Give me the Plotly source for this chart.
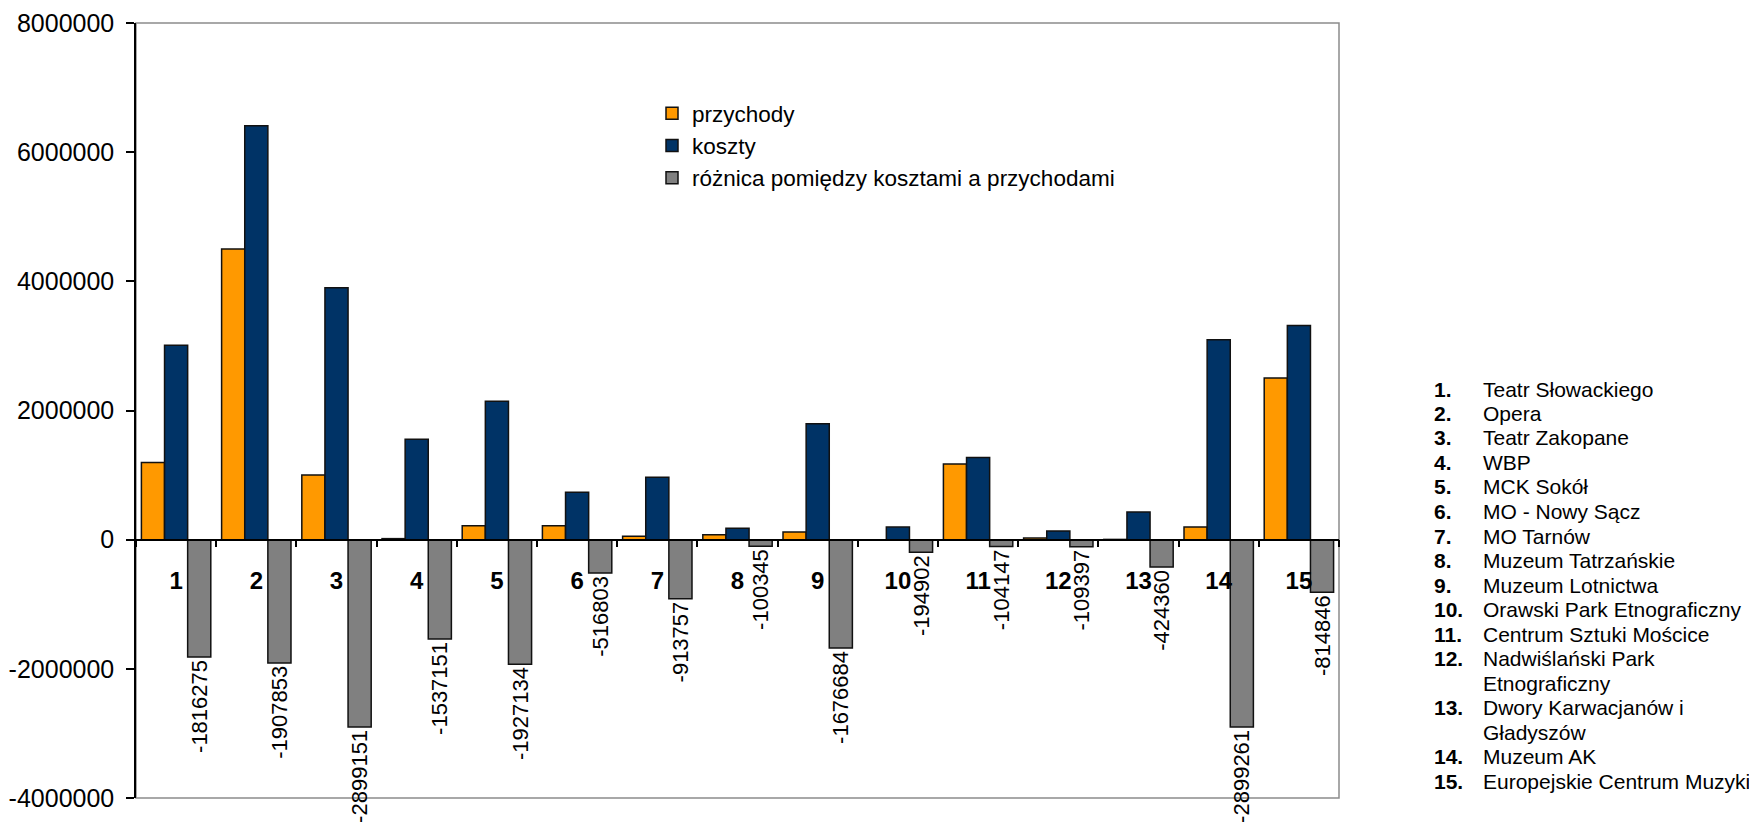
import plotly.graph_objects as go

# ---- data ----
categories = [str(i) for i in range(1, 16)]
przychody = [1196000, 4500000, 1000000, 16000, 217000, 217000, 52000, 75000,
             119000, 0, 1170000, 25000, 4000, 196000, 2502000]
koszty = [3012000, 6408000, 3899000, 1553000, 2144000, 734000, 966000, 175000,
          1796000, 195000, 1274000, 134000, 428000, 3095000, 3317000]
roznica = [-1816275, -1907853, -2899151, -1537151, -1927134, -516803, -913757,
           -100345, -1676684, -194902, -104147, -109397, -424360, -2899261, -814846]
series_names = ["przychody", "koszty", "różnica pomiędzy kosztami a przychodami"]
y_tick_values = [8000000, 6000000, 4000000, 2000000, 0, -2000000, -4000000]
y_tick_labels = ["8000000", "6000000", "4000000", "2000000", "0", "-2000000", "-4000000"]
list_numbers = ["1.", "2.", "3.", "4.", "5.", "6.", "7.", "8.", "9.", "10.",
                "11.", "12.", "", "13.", "", "14.", "15."]
list_names = ["Teatr Słowackiego", "Opera", "Teatr Zakopane", "WBP", "MCK Sokół",
              "MO - Nowy Sącz", "MO Tarnów", "Muzeum Tatrzańskie", "Muzeum Lotnictwa",
              "Orawski Park Etnograficzny", "Centrum Sztuki Mościce", "Nadwiślański Park",
              "Etnograficzny", "Dwory Karwacjanów i", "Gładyszów", "Muzeum AK",
              "Europejskie Centrum Muzyki"]

FONT = "Arial, Liberation Sans, sans-serif"
WIN_W, WIN_H = 1757, 825
BODY = 8  # default page body margin
# plot area in window pixels
PL, PR, PT, PB = 136, 1339, 23, 798
plot_w = PR - PL
plot_h = PB - PT

line_style = dict(color="#111111", width=1.5)

fig = go.Figure()
fig.add_trace(go.Bar(x=categories, y=przychody, name=series_names[0],
                     marker=dict(color="#FF9900", line=line_style),
                     legendgroup="a"))
fig.add_trace(go.Bar(x=categories, y=koszty, name=series_names[1],
                     marker=dict(color="#003366", line=line_style),
                     legendgroup="b"))
fig.add_trace(go.Bar(x=categories, y=roznica, name=series_names[2],
                     marker=dict(color="#808080", line=line_style),
                     text=[str(v) for v in roznica], textposition="outside",
                     textangle=-90, constraintext="none", cliponaxis=False,
                     textfont=dict(family=FONT, size=22, color="black"),
                     legendgroup="c"))

# frame (gray) around plot area
fig.add_shape(type="rect", xref="paper", yref="paper", x0=0, x1=1, y0=0, y1=1,
              line=dict(color="#8c8c8c", width=1.5), layer="below")


def px_to_paper_x(px):
    return (px - PL) / plot_w


def px_to_paper_y(py):
    return (PB - py) / plot_h


# right-hand list
for i, (num, name) in enumerate(zip(list_numbers, list_names)):
    ypx = 389 + 24.5 * i
    if num:
        fig.add_annotation(text="<b>" + num + "</b>", xref="paper", yref="paper",
                           x=px_to_paper_x(1432), y=px_to_paper_y(ypx),
                           xanchor="left", yanchor="middle", showarrow=False,
                           font=dict(family=FONT, size=21, color="black"))
    fig.add_annotation(text=name, xref="paper", yref="paper",
                       x=px_to_paper_x(1481), y=px_to_paper_y(ypx),
                       xanchor="left", yanchor="middle", showarrow=False,
                       font=dict(family=FONT, size=21, color="black"))

fig.update_layout(
    width=WIN_W - BODY, height=WIN_H - BODY, autosize=False,
    margin=dict(l=PL - BODY, r=WIN_W - PR, t=PT - BODY, b=WIN_H - PB, pad=0,
                autoexpand=False),
    paper_bgcolor="white", plot_bgcolor="white",
    font=dict(family=FONT, color="black"),
    barmode="group", bargap=0.135, bargroupgap=0,
    showlegend=True,
    legend=dict(x=px_to_paper_x(652), y=px_to_paper_y(92), xanchor="left", yanchor="top",
                bgcolor="rgba(0,0,0,0)", font=dict(family=FONT, size=22.5, color="black"),
                traceorder="grouped", tracegroupgap=0),
    xaxis=dict(type="category", anchor="free", position=1/3, automargin=False,
               showline=True, linecolor="black", linewidth=1.5,
               ticks="outside", tickson="boundaries", ticklen=7, tickcolor="black",
               tickwidth=1.5, showgrid=False, zeroline=False,
               tickfont=dict(family=FONT, size=24, color="black", weight="bold"),
               ticklabelstandoff=20),
    yaxis=dict(range=[-4000000, 8000000], tickvals=y_tick_values, ticktext=y_tick_labels,
               automargin=False,
               showline=True, linecolor="black", linewidth=1.5,
               ticks="outside", ticklen=8, tickcolor="black", tickwidth=1.5,
               showgrid=False, zeroline=False,
               tickfont=dict(family=FONT, size=25, color="black"),
               ticklabelstandoff=7),
)

fig.write_html("out.html")
